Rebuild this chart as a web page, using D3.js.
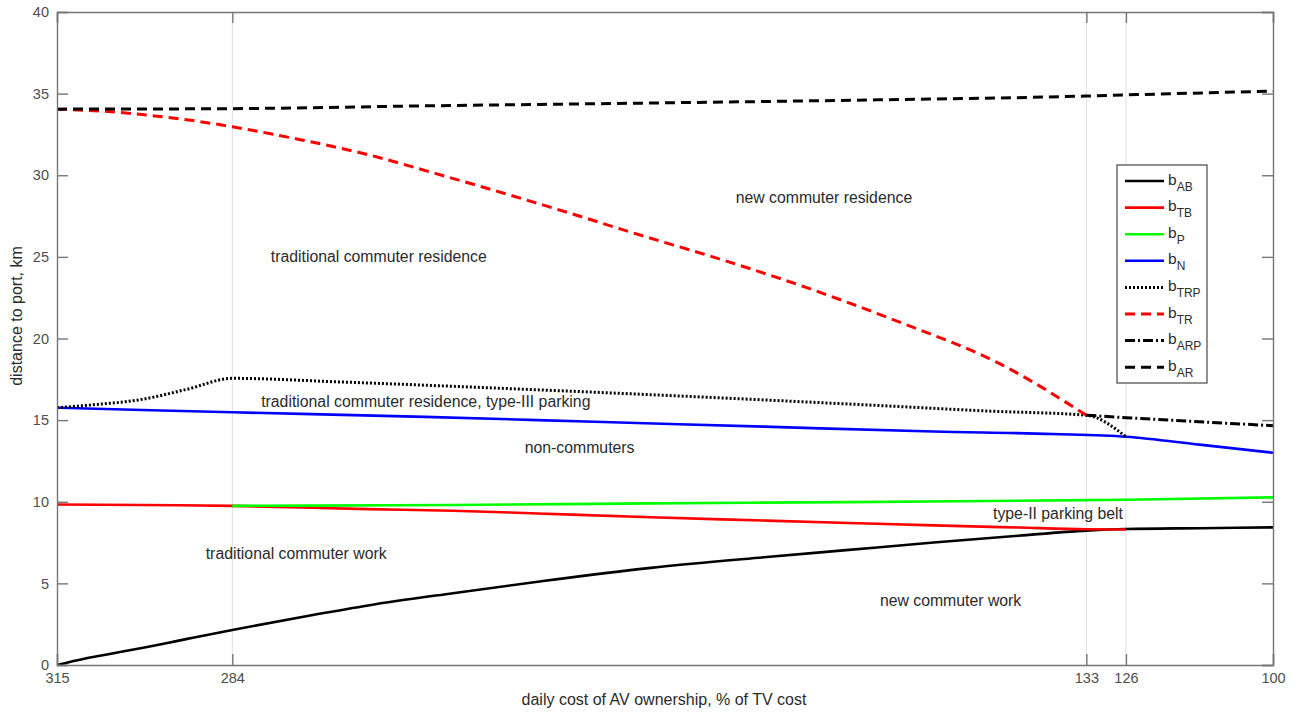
<!DOCTYPE html>
<html>
<head>
<meta charset="utf-8">
<script src="https://cdn.jsdelivr.net/npm/d3@7/dist/d3.min.js"></script>
<style>
  html, body { margin: 0; padding: 0; background: #fff; }
  svg { display: block; font-family: "Liberation Sans", Arial, Helvetica, sans-serif; }
</style>
</head>
<body>
<svg id="chart" width="1298" height="715"></svg>
<script>
// x: daily cost of AV ownership (% of TV cost), y: distance to port (km)
const xTicks = [315, 284, 133, 126, 100];
const xGrid = [284, 133, 126];
const yTicks = [0, 5, 10, 15, 20, 25, 30, 35, 40];

const bAB = [[315,0],[310,0.4],[305,0.72],[300,1.04],[292,1.6],[284,2.15],[270,3.05],[260,3.65],[245,4.4],[230,5.1],[210,5.95],[190,6.6],[175,7.05],[160,7.5],[145,7.92],[133,8.23],[126,8.33],[113,8.38],[100,8.43]];
const bTB = [[315,9.83],[300,9.8],[284,9.75],[260,9.55],[245,9.45],[230,9.28],[210,9.05],[190,8.85],[175,8.7],[160,8.55],[145,8.42],[133,8.32],[126,8.3]];
const bP  = [[284,9.75],[245,9.8],[210,9.9],[175,9.98],[133,10.1],[126,10.12],[100,10.27]];
const bN  = [[315,15.76],[300,15.62],[284,15.48],[250,15.2],[220,14.9],[190,14.6],[160,14.3],[139,14.15],[126,13.98],[113,13.5],[100,13.0]];
const bTRP = [[315,15.76],[309,15.93],[300,16.27],[292,16.89],[284,17.56],[265,17.34],[240,17.0],[200,16.4],[170,15.9],[150,15.55],[133,15.3],[126,13.98]];
const bTR = [[315,34.05],[306,33.9],[300,33.72],[290,33.3],[284,32.97],[272,32.18],[260,31.26],[248,30.1],[237,29.0],[225,27.75],[211,26.24],[200,25.1],[184,23.3],[166,21.0],[148,18.4],[133,15.3]];
const bARP = [[133,15.3],[126,15.15],[113,14.9],[100,14.66]];
const bAR = [[315,34.05],[284,34.08],[250,34.25],[211,34.42],[170,34.62],[133,34.85],[126,34.92],[100,35.15]];

const series = [
  { sub: "AB",  data: bAB,  color: "#000000", dash: null,         width: 2.6 },
  { sub: "TB",  data: bTB,  color: "#ff0000", dash: null,         width: 2.6 },
  { sub: "P",   data: bP,   color: "#00ff00", dash: null,         width: 2.6 },
  { sub: "N",   data: bN,   color: "#0000ff", dash: null,         width: 2.6 },
  { sub: "TRP", data: bTRP, color: "#000000", dash: "2,2",        width: 3 },
  { sub: "TR",  data: bTR,  color: "#ff0000", dash: "10,6",       width: 3 },
  { sub: "ARP", data: bARP, color: "#000000", dash: "10,3,2,3",   width: 3 },
  { sub: "AR",  data: bAR,  color: "#000000", dash: "10,6",       width: 3 }
];

// region annotations: left edge and baseline, in data units
const regionLabels = [
  { text: "new commuter residence", x: 195, y: 28.3 },
  { text: "traditional commuter residence", x: 277.2, y: 24.7 },
  { text: "traditional commuter residence, type-III parking", x: 278.9, y: 15.8 },
  { text: "non-commuters", x: 232.3, y: 13.0 },
  { text: "type-II parking belt", x: 149.5, y: 8.95 },
  { text: "traditional commuter work", x: 288.7, y: 6.5 },
  { text: "new commuter work", x: 169.5, y: 3.6 }
];

const svg = d3.select("#chart");
const plotL = 57, plotR = 1273, plotT = 12, plotB = 665;

const x = d3.scaleLinear().domain([315, 100]).range([plotL, plotR]);
const y = d3.scaleLinear().domain([0, 40]).range([plotB, plotT]);

const axisColor = "#767676";
const textColor = "#4d4d4d";
const labelColor = "#2b2b2b";

// vertical reference lines
svg.append("g").selectAll("line").data(xGrid).join("line")
  .attr("x1", d => x(d)).attr("x2", d => x(d))
  .attr("y1", plotT).attr("y2", plotB)
  .attr("stroke", "#dedede").attr("stroke-width", 1);

// data lines
const line = d3.line().x(d => x(d[0])).y(d => y(d[1])).curve(d3.curveMonotoneX);
svg.append("g").selectAll("path").data(series).join("path")
  .attr("d", d => line(d.data))
  .attr("fill", "none")
  .attr("stroke", d => d.color)
  .attr("stroke-width", d => d.width)
  .attr("stroke-dasharray", d => d.dash)
  .attr("stroke-linejoin", "round");

// axes box with inward ticks on all four sides
const axB = d3.axisBottom(x).tickValues(xTicks).tickSize(-11).tickPadding(8).tickFormat(d3.format("d"));
const axT = d3.axisTop(x).tickValues(xTicks).tickSize(-11).tickFormat("");
const axL = d3.axisLeft(y).tickValues(yTicks).tickSize(-11).tickPadding(8).tickFormat(d3.format("d"));
const axR = d3.axisRight(y).tickValues(yTicks).tickSize(-11).tickFormat("");

function styleAxis(g) {
  g.select(".domain").attr("stroke", axisColor).attr("stroke-width", 1.4);
  g.selectAll(".tick line").attr("stroke", axisColor).attr("stroke-width", 1.4);
  g.selectAll(".tick text").attr("fill", textColor).style("font-size", "14.5px")
    .style("font-family", "'Liberation Sans', Arial, sans-serif");
}
svg.append("g").attr("transform", `translate(0,${plotB})`).call(axB).call(styleAxis);
svg.append("g").attr("transform", `translate(0,${plotT})`).call(axT).call(styleAxis);
svg.append("g").attr("transform", `translate(${plotL},0)`).call(axL).call(styleAxis);
svg.append("g").attr("transform", `translate(${plotR},0)`).call(axR).call(styleAxis);

// axis titles
svg.append("text")
  .attr("x", 664).attr("y", 705)
  .attr("text-anchor", "middle").attr("fill", labelColor)
  .style("font-size", "16px")
  .text("daily cost of AV ownership, % of TV cost");
svg.append("text")
  .attr("transform", `translate(22,316) rotate(-90)`)
  .attr("text-anchor", "middle").attr("fill", labelColor)
  .style("font-size", "16px")
  .text("distance to port, km");

// region annotations
svg.append("g").selectAll("text").data(regionLabels).join("text")
  .attr("x", d => x(d.x)).attr("y", d => y(d.y))
  .attr("fill", labelColor).style("font-size", "15.8px")
  .text(d => d.text);

// legend
const lg = svg.append("g");
const lgX = 1117, lgY = 165, lgW = 90, lgH = 218, rowH = 26.6, row0 = 181;
lg.append("rect").attr("x", lgX).attr("y", lgY).attr("width", lgW).attr("height", lgH)
  .attr("fill", "#fff").attr("stroke", "#555").attr("stroke-width", 1.3);
const rows = lg.selectAll("g.row").data(series).join("g").attr("class", "row")
  .attr("transform", (d, i) => `translate(0,${row0 + i * rowH})`);
rows.append("line")
  .attr("x1", 1125).attr("x2", 1164).attr("y1", 0).attr("y2", 0)
  .attr("stroke", d => d.color).attr("stroke-width", d => d.width)
  .attr("stroke-dasharray", d => d.dash);
const lt = rows.append("text").attr("x", 1168).attr("y", 3.5).attr("fill", labelColor)
  .style("font-size", "15.5px");
lt.append("tspan").text("b");
lt.append("tspan").attr("dy", 6).style("font-size", "12px").text(d => d.sub);
</script>
</body>
</html>
